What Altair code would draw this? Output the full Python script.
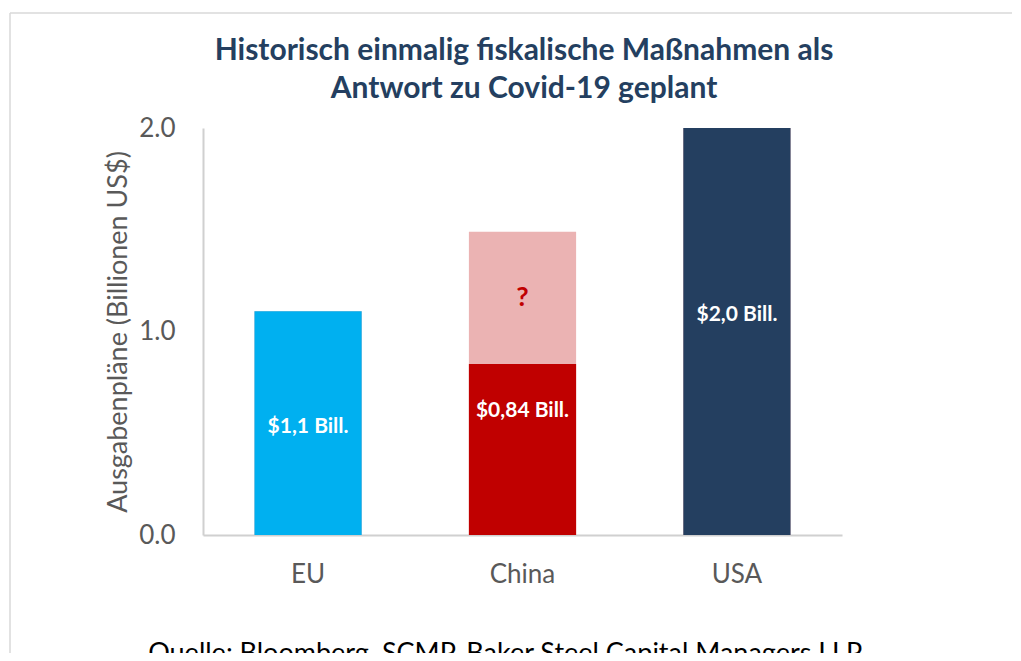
import altair as alt
import pandas as pd

# Data
regions = ["EU", "China", "USA"]
confirmed = [1.1, 0.84, 2.0]
uncertain = [0.0, 0.65, 0.0]  # China's unconfirmed extra (top ~1.49)
bar_labels = ["$1,1 Bill.", "$0,84 Bill.", "$2,0 Bill."]
label_pos = [0.53, 0.61, 1.08]
question_label = "?"
question_pos = 1.165
y_ticks = [0.0, 1.0, 2.0]
title_lines = ["Historisch einmalig fiskalische Maßnahmen als", "Antwort zu Covid-19 geplant"]
source_text = "Quelle: Bloomberg, SCMP, Baker Steel Capital Managers LLP."

colors_confirmed = ["#00B0F0", "#C00000", "#243F60"]
color_uncertain = "#EBB3B3"

FONT = "Lato"

df = pd.DataFrame({
    "region": regions,
    "confirmed": confirmed,
    "top": [c + u for c, u in zip(confirmed, uncertain)],
    "label": bar_labels,
    "label_pos": label_pos,
    "color": colors_confirmed,
})
df_q = pd.DataFrame({"region": ["China"], "pos": [question_pos], "label": [question_label]})

W, H = 639, 407

x_enc = alt.X(
    "region:N",
    sort=regions,
    scale=alt.Scale(paddingInner=0.5, paddingOuter=0.24),
    axis=alt.Axis(
        title=None, labelAngle=0, labelFont=FONT, labelFontSize=26,
        labelColor="#595959", labelPadding=26, ticks=False,
        domainColor="#d0d0d0", domainWidth=2,
    ),
)
y_scale = alt.Scale(domain=[0, 2.0], nice=False)
y_axis = alt.Axis(
    title="Ausgabenpläne (Billionen US$)", titleFont=FONT, titleFontSize=27,
    titleFontWeight="normal", titleColor="#595959", titlePadding=6,
    values=y_ticks, format=".1f", labelFont=FONT, labelFontSize=26,
    labelColor="#595959", labelPadding=28, ticks=False, grid=False,
    domainColor="#d0d0d0", domainWidth=2,
)

pink = alt.Chart(df).mark_bar(color=color_uncertain).encode(
    x=x_enc,
    y=alt.Y("top:Q", scale=y_scale, axis=y_axis),
)
bars = alt.Chart(df).mark_bar().encode(
    x=alt.X("region:N", sort=regions),
    y=alt.Y("confirmed:Q"),
    color=alt.Color("color:N", scale=None, legend=None),
)
labels = alt.Chart(df).mark_text(
    font=FONT, fontSize=21, fontWeight="bold", color="white"
).encode(
    x=alt.X("region:N", sort=regions),
    y=alt.Y("label_pos:Q"),
    text="label:N",
)
qmark = alt.Chart(df_q).mark_text(
    font=FONT, fontSize=27, fontWeight="bold", color="#C00000"
).encode(
    x=alt.X("region:N", sort=regions),
    y=alt.Y("pos:Q"),
    text="label:N",
)
source = alt.Chart(pd.DataFrame({"t": [source_text]})).mark_text(
    font=FONT, fontSize=27, color="#000000", align="center", baseline="middle"
).encode(x=alt.value(304), y=alt.value(526), text="t:N")

title1 = alt.Chart(pd.DataFrame({"t": [title_lines[0]]})).mark_text(
    font=FONT, fontSize=30, fontWeight="bold", color="#243F60", align="center", baseline="middle"
).encode(x=alt.value(321), y=alt.value(-77), text="t:N")
title2 = alt.Chart(pd.DataFrame({"t": [title_lines[1]]})).mark_text(
    font=FONT, fontSize=30, fontWeight="bold", color="#243F60", align="center", baseline="middle"
).encode(x=alt.value(321), y=alt.value(-39), text="t:N")

frame_top = alt.Chart(pd.DataFrame({"a": [0]})).mark_rule(color="#d9d9d9", strokeWidth=1.5).encode(
    x=alt.value(-193), x2=alt.value(820), y=alt.value(-115)
)
frame_left = alt.Chart(pd.DataFrame({"a": [0]})).mark_rule(color="#d9d9d9", strokeWidth=1.5).encode(
    x=alt.value(-193), y=alt.value(-115), y2=alt.value(540)
)

chart = alt.layer(frame_top, frame_left, pink, bars, labels, qmark, source, title1, title2).properties(
    width=W, height=H,
    background="white",
    autosize=alt.AutoSizeParams(type="none"),
    padding={"left": 195, "top": 120, "right": 170, "bottom": 118},
).configure_view(stroke="transparent", strokeWidth=0)

chart.save("out.html", embed_options={"renderer": "svg", "actions": False})
